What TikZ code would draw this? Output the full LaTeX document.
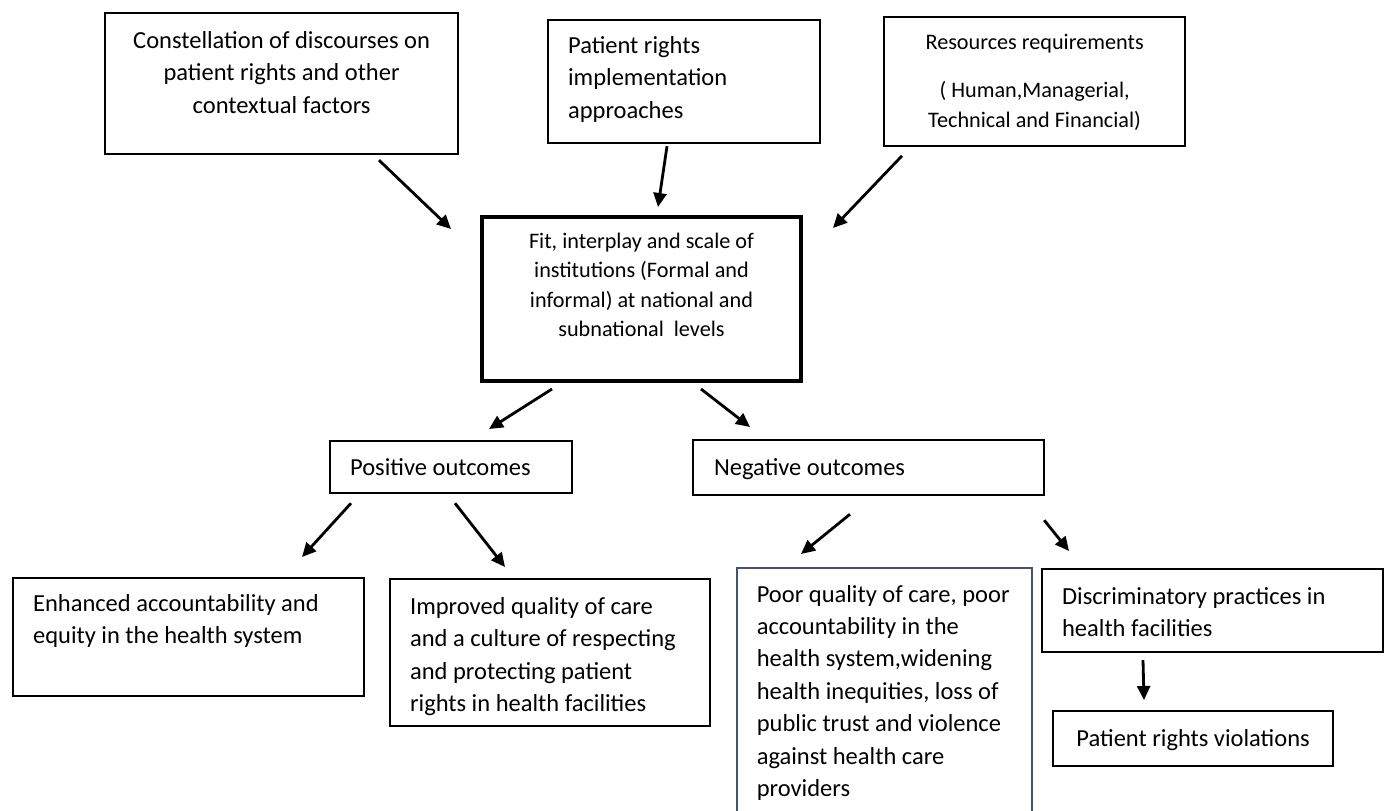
\documentclass[tikz,border=0pt]{standalone}
\usepackage{fontspec}
\setmainfont{Carlito}
\usetikzlibrary{arrows.meta}
\newcommand{\mainsize}{\fontsize{12.25pt}{16.2pt}\selectfont}
\newcommand{\smallsize}{\fontsize{11.1pt}{14.6pt}\selectfont}
\newcommand{\boxtext}[4]{\parbox[c][#1][t]{#2}{#3\strut#4}}
\definecolor{slate}{RGB}{68,84,106}
\tikzset{box/.style={draw,line width=1.1pt,anchor=north west,inner xsep=10pt,font=\mainsize},arrow/.style={-{Triangle[length=7pt,width=6.5pt]},line width=1.4pt}}

\begin{document}
\begin{tikzpicture}[x=0.5pt,y=-0.5pt]
\clip (0,0) rectangle (1385,810);
\fill[white] (0,0) rectangle (1385,810);
\node[box,inner xsep=5pt,inner ysep=6.35pt] (constel) at (104,12) {\boxtext{57.8pt}{166.5pt}{\centering}{Constellation of discourses on\\patient rights and other\\contextual factors}};
\node[box,inner ysep=5.35pt] (approach) at (547,19) {\boxtext{50.8pt}{116pt}{\raggedright}{Patient rights\\implementation\\approaches}};
\node[box,font=\smallsize,inner xsep=5pt,inner ysep=6.1pt] (resource) at (883,16) {\boxtext{52.1pt}{140.5pt}{\centering}{Resources requirements\\[9.5pt]( Human,Managerial,\\Technical and Financial)}};
\node[box,line width=2pt,font=\smallsize,inner xsep=5pt,inner ysep=5.6pt] (fit) at (480,215) {\boxtext{70.8pt}{149.5pt}{\centering}{Fit, interplay and scale of\\institutions (Formal and\\informal) at national and\\subnational\ \ levels}};
\node[box,inner ysep=5.85pt] (positive) at (329,440) {\boxtext{14.3pt}{101pt}{\raggedright}{Positive outcomes}};
\node[box,inner xsep=10.5pt,inner ysep=6.35pt] (negative) at (692,439) {\boxtext{14.8pt}{154.5pt}{\raggedright}{Negative outcomes}};
\node[box,inner ysep=5.35pt] (account) at (12,577) {\boxtext{48.3pt}{155.5pt}{\raggedright}{Enhanced accountability and\\equity in the health system}};
\node[box,inner ysep=6.35pt] (quality) at (389,578) {\boxtext{60.8pt}{140pt}{\raggedright}{Improved quality of care\\and a culture of respecting\\and protecting patient\\rights in health facilities}};
\node[box,draw=slate,line width=0.8pt,inner ysep=5.85pt] (poor) at (736,567) {\boxtext{119.8pt}{127.5pt}{\raggedright}{Poor quality of care, poor\\accountability in the\\health system,widening\\health inequities, loss of\\public trust and violence\\against health care\\providers}};
\node[box,inner ysep=6.35pt] (discrim) at (1041,568) {\boxtext{28.8pt}{150.5pt}{\raggedright}{Discriminatory practices in\\health facilities}};
\node[box,inner xsep=5pt,inner ysep=6.35pt] (violation) at (1052,710) {\boxtext{14.8pt}{130pt}{\centering}{Patient rights violations}};
\draw[arrow] ([shift={(275,5)}]constel.south west) -- ([shift={(-29,14)}]fit.north west);
\draw[arrow] ([shift={(120,2)}]approach.south west) -- ([shift={(178,-8)}]fit.north west);
\draw[arrow] ([shift={(19,9)}]resource.south west) -- ([shift={(30,13)}]fit.north east);
\draw[arrow] ([shift={(72,6)}]fit.south west) -- ([shift={(160,-11)}]positive.north west);
\draw[arrow] ([shift={(221,6)}]fit.south west) -- ([shift={(58,-12)}]negative.north west);
\draw[arrow] ([shift={(22,9)}]positive.south west) -- ([shift={(290,-20)}]account.north west);
\draw[arrow] ([shift={(126,9)}]positive.south west) -- ([shift={(116,-11)}]quality.north west);
\draw[arrow] ([shift={(158,18)}]negative.south west) -- ([shift={(65,-13)}]poor.north west);
\draw[arrow] ([shift={(-1,24)}]negative.south east) -- ([shift={(28,-17)}]discrim.north west);
\draw[arrow] ([shift={(102,7)}]discrim.south west) -- ([shift={(92,-10)}]violation.north west);
\end{tikzpicture}
\end{document}
